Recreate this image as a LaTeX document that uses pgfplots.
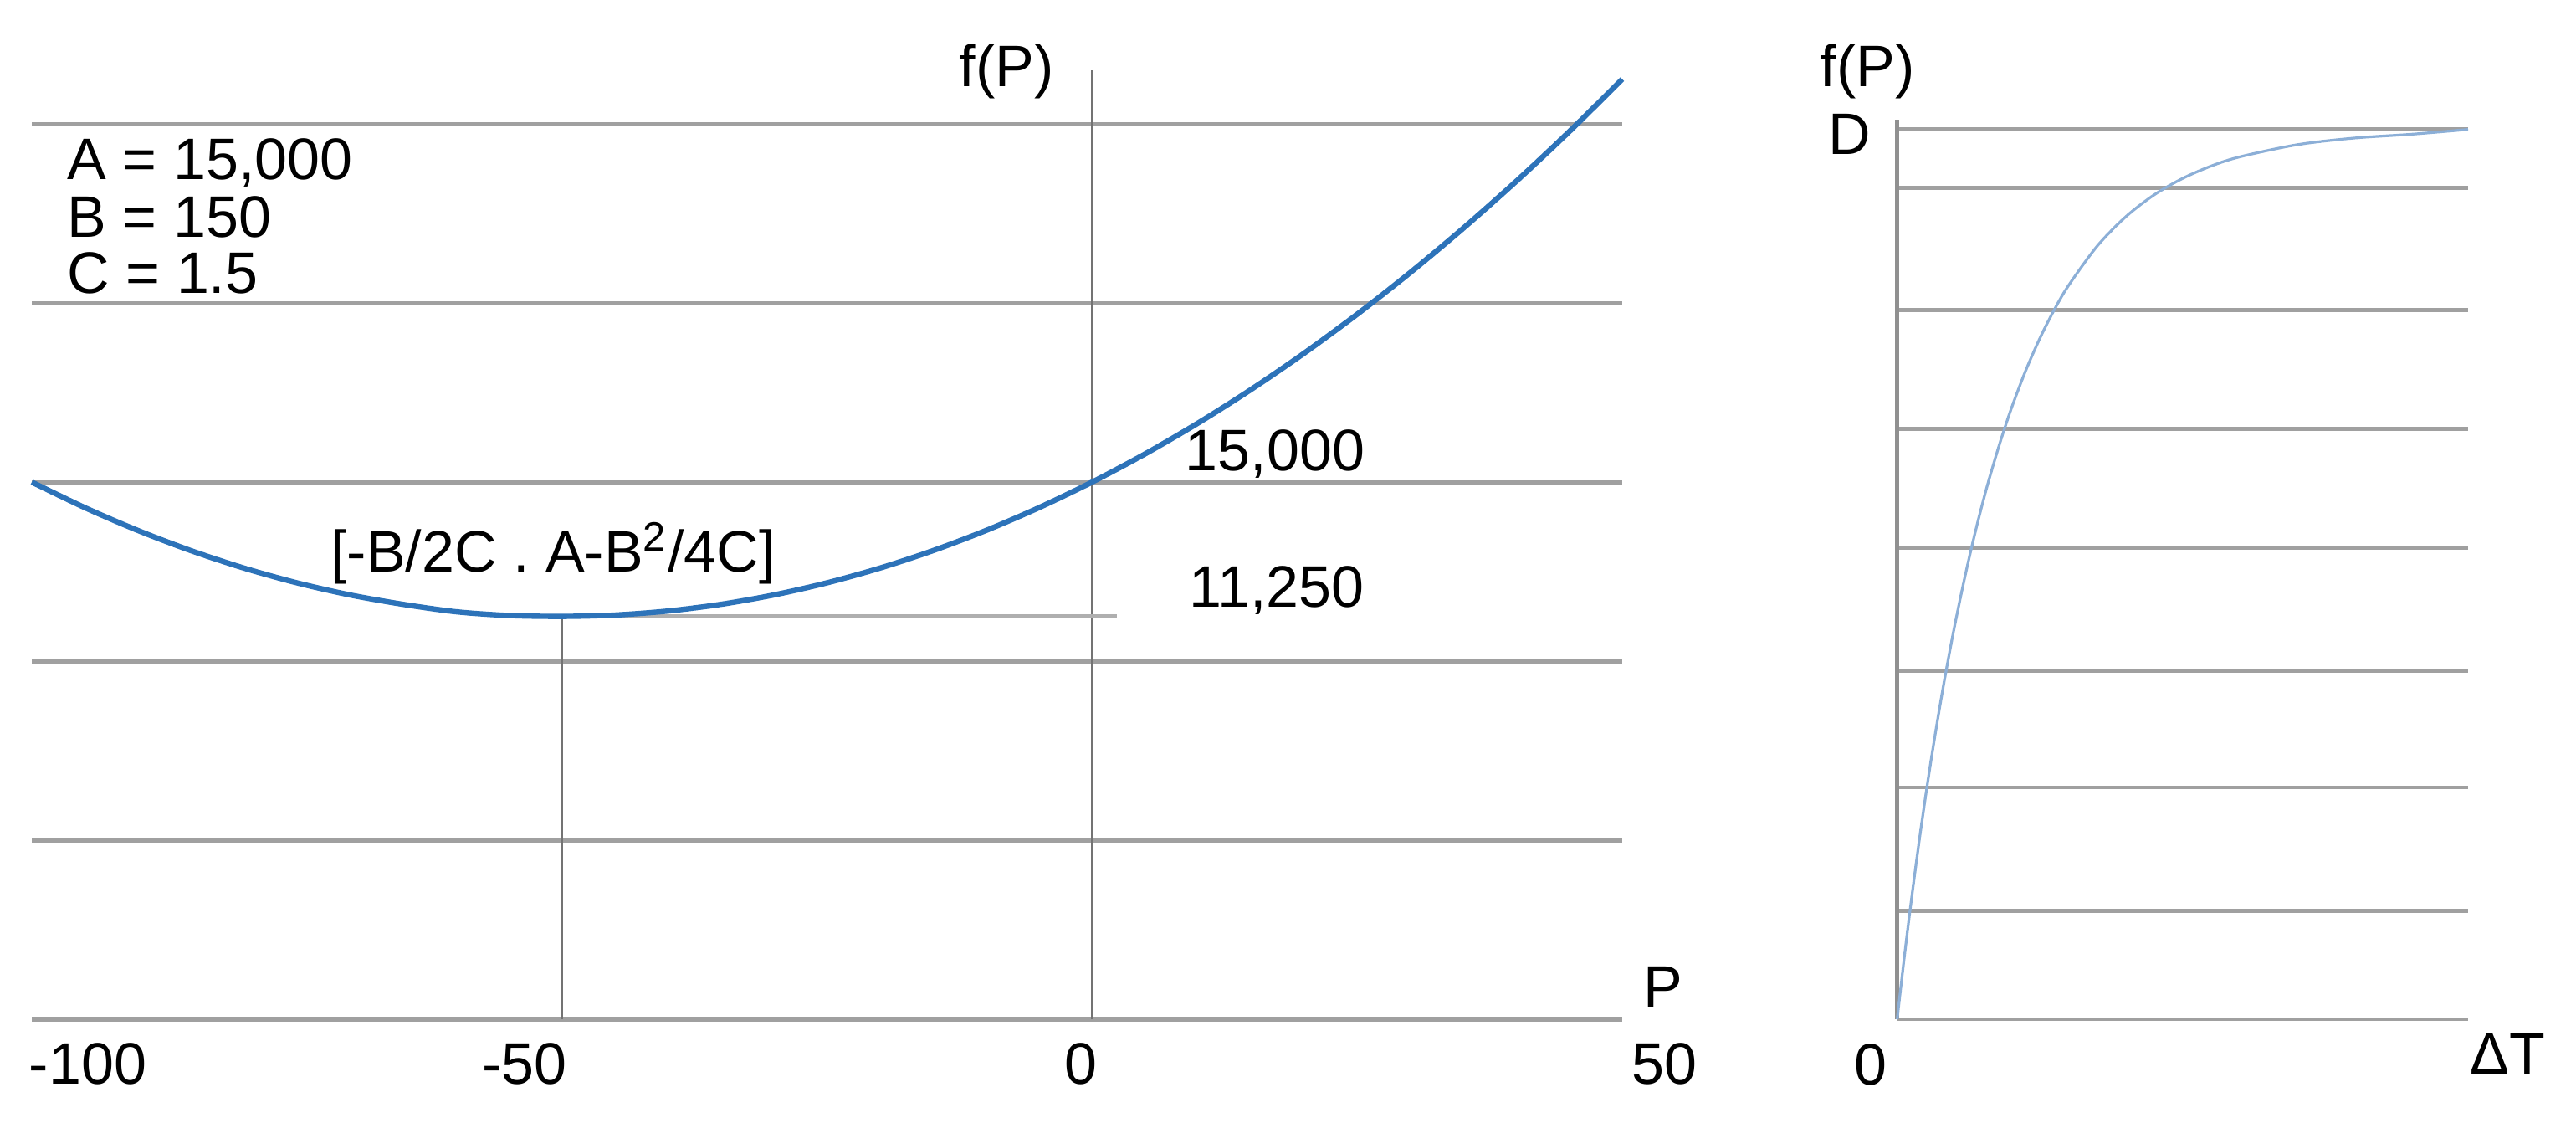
\documentclass[border=0pt]{standalone}
\usepackage{pgfplots}
\pgfplotsset{compat=1.18}
\usepackage{fontspec}
\setmainfont{Liberation Sans}
\definecolor{curveblue}{RGB}{45,115,185}
\definecolor{lightblue}{RGB}{140,175,215}
\definecolor{gridgray}{RGB}{160,160,160}
\definecolor{axgray}{RGB}{115,115,115}
\definecolor{shortgray}{RGB}{175,175,175}
\begin{document}
\begin{tikzpicture}[x=1pt,y=1pt,every node/.append style={font=\fontsize{17.5}{21}\selectfont, inner sep=0pt}]
\useasboundingbox (0,0) rectangle (769.75,335.25);
% ---------------- left chart ----------------
\begin{axis}[
  at={(9.5pt,30.75pt)}, anchor=south west,
  scale only axis, width=475.25pt, height=283.5pt,
  xmin=-100, xmax=50, ymin=0, ymax=26500,
  axis line style={draw=none},
  xtick=\empty,
  ytick={0,5000,10000,15000,20000,25000},
  scaled y ticks=false,
  yticklabel=\empty,
  major tick length=0pt,
  ymajorgrids,
  major grid style={gridgray, line width=1.3pt},
  clip=false,
]
\addplot[axgray, line width=0.9pt] coordinates {(0,0) (0,26500)};
\addplot[axgray, line width=0.9pt] coordinates {(-50,0) (-50,11250)};
\addplot[shortgray, line width=1.2pt] coordinates {(-50,11250) (2.3,11250)};
\addplot[curveblue, line width=1.6pt, smooth] coordinates {
(-100,15000) (-95,14287.5) (-90,13650) (-85,13087.5) (-80,12600) (-75,12187.5)
(-70,11850) (-65,11587.5) (-60,11380) (-55,11275) (-50,11250) (-45,11287.5)
(-40,11400) (-35,11587.5) (-30,11850) (-25,12187.5) (-20,12600) (-15,13087.5)
(-10,13650) (-5,14287.5) (0,15000) (5,15787.5) (10,16650) (15,17587.5)
(20,18600) (25,19687.5) (30,20850) (35,22087.5) (40,23400) (45,24787.5) (50,26250)};
\node[anchor=base] at (axis cs:-8.07,26034) {f(P)};
\node[anchor=base west] at (axis cs:-96.69,23459) {A = 15,000};
\node[anchor=base west] at (axis cs:-96.69,21849) {B = 150};
\node[anchor=base west] at (axis cs:-96.69,20261) {C = 1.5};
\node[anchor=base west] at (axis cs:8.74,15313) {15,000};
\node[anchor=base west] at (axis cs:9.13,11508) {11,250};
\node[anchor=base] at (axis cs:-50.84,12490) {[-B/2C . A-B\textsuperscript{2}/4C]};
\node[anchor=base] at (axis cs:-94.71,-1811) {-100};
\node[anchor=base] at (axis cs:-53.52,-1811) {-50};
\node[anchor=base] at (axis cs:-1.05,-1811) {0};
\node[anchor=base] at (axis cs:53.95,-1811) {50};
\node[anchor=base] at (axis cs:53.87,350) {P};
\end{axis}
% ---------------- right chart ----------------
\begin{axis}[
  at={(566.9pt,30.75pt)}, anchor=south west,
  scale only axis, width=170.6pt, height=268.75pt,
  xmin=0, xmax=1, ymin=0, ymax=1.011,
  axis line style={draw=none},
  xtick=\empty,
  ytick={0,0.1218,0.2606,0.3913,0.5296,0.6632,0.7968,0.9346,1},
  scaled y ticks=false,
  yticklabel=\empty,
  major tick length=0pt,
  ymajorgrids,
  major grid style={gridgray, line width=1.2pt},
  clip=false,
]
\addplot[gridgray!90!black, line width=1.3pt] coordinates {(0,0) (0,1.011)};
\addplot[lightblue, line width=0.8pt, smooth] coordinates {
(0,0) (0.01,0.0563) (0.02,0.1095) (0.03,0.1595) (0.04,0.2071) (0.05,0.2517) (0.06,0.2939)
(0.07,0.3336) (0.08,0.3712) (0.09,0.4065) (0.10,0.4401) (0.115,0.4866)
(0.13,0.5295) (0.145,0.5687) (0.16,0.6047) (0.18,0.6478) (0.20,0.6865) (0.225,0.7288)
(0.25,0.7654) (0.275,0.7972) (0.30,0.8245) (0.35,0.8687) (0.40,0.9017) (0.45,0.9265)
(0.50,0.9450) (0.55,0.9589) (0.60,0.9692) (0.70,0.9828)
(0.80,0.9903) (0.90,0.9946) (1.00,1.0)};
\node[anchor=base] at (axis cs:-0.052,1.048) {f(P)};
\node[anchor=base] at (axis cs:-0.0828,0.9718) {D};
\node[anchor=base] at (axis cs:-0.0462,-0.0734) {0};
\node[anchor=base] at (axis cs:1.069,-0.062) {ΔT};
\end{axis}
\end{tikzpicture}
\end{document}
